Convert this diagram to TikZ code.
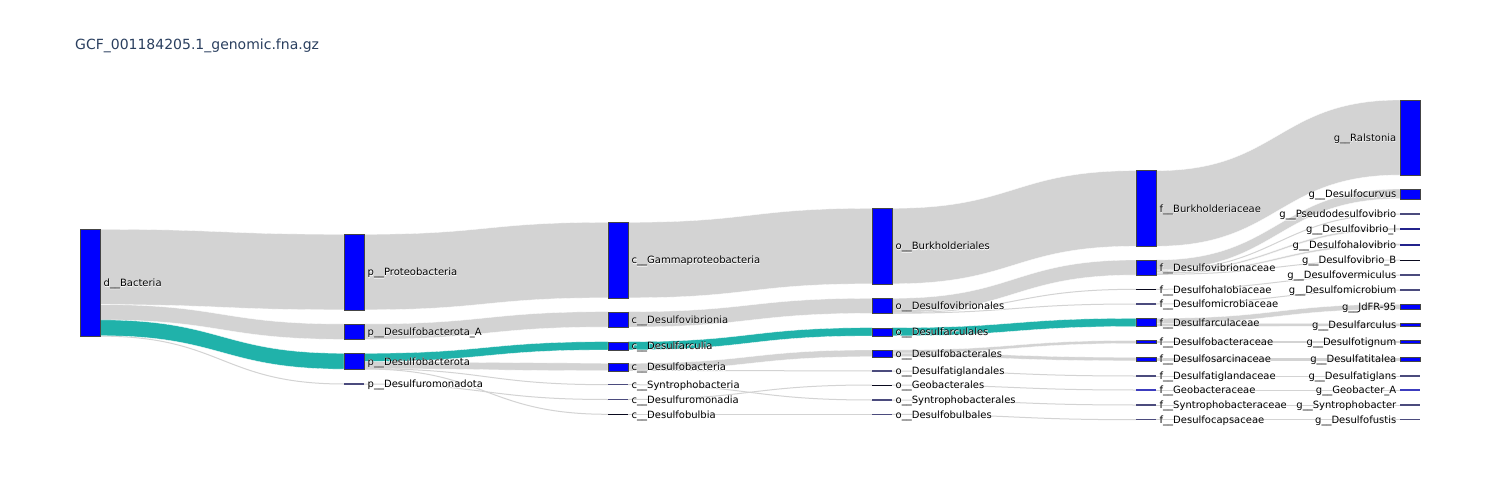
\documentclass[tikz,border=0pt]{standalone}
\usepackage{fontspec}
\setmainfont{DejaVu Sans}
\newfontfamily\halofont{DejaVu Sans}[FakeBold=2.5]
\usetikzlibrary{calc}
\definecolor{nodeblue}{RGB}{0,0,255}
\definecolor{nodeline}{RGB}{68,68,68}
\definecolor{linkgrey}{RGB}{211,211,211}
\definecolor{tealc}{RGB}{32,178,170}
\definecolor{titlec}{RGB}{42,63,95}
\definecolor{thinc}{RGB}{75,75,125}
\definecolor{thinb}{RGB}{60,60,190}
\definecolor{navyc}{RGB}{35,35,140}
\definecolor{tinyc}{RGB}{10,10,30}
\pgfdeclarelayer{back}\pgfdeclarelayer{bg}\pgfsetlayers{back,bg,main}
\newcommand\hl[1]{\makebox[0pt][l]{\color{white}\halofont #1}#1}
\tikzset{
  lbl/.style={font=\fontsize{10}{12}\selectfont, inner sep=0pt, text=black, yshift=-1.3pt},
  lble/.style={lbl, xshift=3.5pt},
  lblw/.style={lbl, xshift=-3.5pt},
  nd/.style={draw=nodeline, line width=0.4pt, fill=nodeblue, minimum width=20pt,
    minimum height=#1, inner sep=0pt, outer sep=0pt, anchor=north west},
  thinnd/.style={fill=#1, minimum width=20pt, minimum height=1.3pt, inner sep=0pt,
    outer sep=0pt, anchor=west},
  band/.style={fill=#1, draw=white, line width=0.3pt},
  thinlink/.style={draw=linkgrey, line width=1pt},
  titlefont/.style={font=\fontsize{14}{16}\selectfont, text=titlec, inner sep=0pt}
}
% band between two nodes: color, source, top, bottom, target, top, bottom
\newcommand\lnk[7]{%
  \path ([yshift=-#3pt]#2.north east) coordinate (s1)
        ([yshift=-#4pt]#2.north east) coordinate (s2)
        ([yshift=-#6pt]#5.north west) coordinate (t1)
        ([yshift=-#7pt]#5.north west) coordinate (t2);
  \path ($(s1)!0.5!(t1)$) coordinate (m1) ($(s2)!0.5!(t2)$) coordinate (m2);
  \path[band=#1] (s1) .. controls (s1 -| m1) and (t1 -| m1) .. (t1) -- (t2)
     .. controls (t2 -| m2) and (s2 -| m2) .. (s2) -- cycle;}
% thin link
\newcommand\tlnk[2]{%
  \path (#1) coordinate (s1) (#2) coordinate (t1);
  \path ($(s1)!0.5!(t1)$) coordinate (m1);
  \path[thinlink] (s1) .. controls (s1 -| m1) and (t1 -| m1) .. (t1);}
\begin{document}
\begin{tikzpicture}[x=1pt,y=-1pt]
\begin{pgfonlayer}{back}
\fill[white] (0,0) rectangle (1500,500);
\end{pgfonlayer}
\useasboundingbox (0,0) rectangle (1500,500);
\node[titlefont, anchor=base west] (title) at (75,50) {GCF\_001184205.1\_genomic.fna.gz};
% column 0
\node[nd=107pt, label={[lble]east:\hl{d\_\_Bacteria}}] (bact) at (80,229.3) {};
% column 1
\node[nd=75.5pt, label={[lble]east:\hl{p\_\_Proteobacteria}}] (proteo) at (344,234.3) {};
\node[nd=15.3pt, label={[lble]east:\hl{p\_\_Desulfobacterota\_A}}] (pDA) at (344,324) {};
\node[nd=15.8pt, label={[lble]east:\hl{p\_\_Desulfobacterota}}] (pD) at (344,353.3) {};
\node[thinnd=thinc, label={[lble]east:\hl{p\_\_Desulfuromonadota}}] (duro) at (344,384) {};
% column 2
\node[nd=75.5pt, label={[lble]east:\hl{c\_\_Gammaproteobacteria}}] (gamma) at (608,222.3) {};
\node[nd=15.3pt, label={[lble]east:\hl{c\_\_Desulfovibrionia}}] (cvib) at (608,311.7) {};
\node[nd=8.2pt, label={[lble]east:\hl{c\_\_Desulfarculia}}] (carc) at (608,341.7) {};
\node[nd=7.4pt, label={[lble]east:\hl{c\_\_Desulfobacteria}}] (cbact) at (608,363.3) {};
\node[thinnd=thinc, label={[lble]east:\hl{c\_\_Syntrophobacteria}}] (csyn) at (608,384.7) {};
\node[thinnd=thinc, label={[lble]east:\hl{c\_\_Desulfuromonadia}}] (cduro) at (608,399.5) {};
\node[thinnd=tinyc, minimum height=1pt, label={[lble]east:\hl{c\_\_Desulfobulbia}}] (cbulb) at (608,414.3) {};
% column 3
\node[nd=75.5pt, label={[lble]east:\hl{o\_\_Burkholderiales}}] (burk) at (872,208.3) {};
\node[nd=15pt, label={[lble]east:\hl{o\_\_Desulfovibrionales}}] (ovib) at (872,298.3) {};
\node[nd=8.2pt, label={[lble]east:\hl{o\_\_Desulfarculales}}] (oarc) at (872,327.7) {};
\node[nd=6.7pt, label={[lble]east:\hl{o\_\_Desulfobacterales}}] (obact) at (872,350) {};
\node[thinnd=thinc, label={[lble]east:\hl{o\_\_Desulfatiglandales}}] (otigl) at (872,371) {};
\node[thinnd=tinyc, minimum height=1pt, label={[lble]east:\hl{o\_\_Geobacterales}}] (ogeo) at (872,385) {};
\node[thinnd=thinc, label={[lble]east:\hl{o\_\_Syntrophobacterales}}] (osyn) at (872,400) {};
\node[thinnd=thinc, label={[lble]east:\hl{o\_\_Desulfobulbales}}] (obulb) at (872,414.3) {};
% column 4
\node[nd=75.5pt, label={[lble]east:\hl{f\_\_Burkholderiaceae}}] (fburk) at (1136,170.7) {};
\node[nd=15pt, label={[lble]east:\hl{f\_\_Desulfovibrionaceae}}] (fvib) at (1136,260) {};
\node[thinnd=tinyc, minimum height=1pt, label={[lble]east:\hl{f\_\_Desulfohalobiaceae}}] (fhalo) at (1136,289.3) {};
\node[thinnd=thinc, label={[lble]east:\hl{f\_\_Desulfomicrobiaceae}}] (fmicro) at (1136,304) {};
\node[nd=8.2pt, label={[lble]east:\hl{f\_\_Desulfarculaceae}}] (farc) at (1136,318.3) {};
\node[nd=3pt, label={[lble]east:\hl{f\_\_Desulfobacteraceae}}] (fbact) at (1136,340.5) {};
\node[nd=3.5pt, label={[lble]east:\hl{f\_\_Desulfosarcinaceae}}] (fsarc) at (1136,357.3) {};
\node[thinnd=thinc, label={[lble]east:\hl{f\_\_Desulfatiglandaceae}}] (ftigl) at (1136,376) {};
\node[thinnd=thinb, label={[lble]east:\hl{f\_\_Geobacteraceae}}] (fgeo) at (1136,390) {};
\node[thinnd=thinc, label={[lble]east:\hl{f\_\_Syntrophobacteraceae}}] (fsyn) at (1136,405) {};
\node[thinnd=thinc, label={[lble]east:\hl{f\_\_Desulfocapsaceae}}] (fcaps) at (1136,419.7) {};
% column 5
\node[nd=75pt, label={[lblw]west:\hl{g\_\_Ralstonia}}] (gral) at (1400,100) {};
\node[nd=9.7pt, label={[lblw]west:\hl{g\_\_Desulfocurvus}}] (gcurv) at (1400,189) {};
\node[thinnd=thinc, label={[lblw]west:\hl{g\_\_Pseudodesulfovibrio}}] (gpseudo) at (1400,214) {};
\node[thinnd=navyc, minimum height=2pt, label={[lblw]west:\hl{g\_\_Desulfovibrio\_I}}] (gvibI) at (1400,229) {};
\node[thinnd=navyc, minimum height=2pt, label={[lblw]west:\hl{g\_\_Desulfohalovibrio}}] (ghalo) at (1400,244.5) {};
\node[thinnd=tinyc, minimum height=1pt, label={[lblw]west:\hl{g\_\_Desulfovibrio\_B}}] (gvibB) at (1400,260) {};
\node[thinnd=thinc, label={[lblw]west:\hl{g\_\_Desulfovermiculus}}] (gverm) at (1400,275) {};
\node[thinnd=thinc, label={[lblw]west:\hl{g\_\_Desulfomicrobium}}] (gmicro) at (1400,290) {};
\node[nd=5pt, label={[lblw]west:\hl{g\_\_JdFR-95}}] (gjdfr) at (1400,304.3) {};
\node[nd=3pt, label={[lblw]west:\hl{g\_\_Desulfarculus}}] (gdarc) at (1400,323.3) {};
\node[nd=3pt, label={[lblw]west:\hl{g\_\_Desulfotignum}}] (gtign) at (1400,340.5) {};
\node[nd=3.5pt, label={[lblw]west:\hl{g\_\_Desulfatitalea}}] (gtital) at (1400,357.3) {};
\node[thinnd=thinc, label={[lblw]west:\hl{g\_\_Desulfatiglans}}] (gtigl) at (1400,376) {};
\node[thinnd=thinb, label={[lblw]west:\hl{g\_\_Geobacter\_A}}] (ggeo) at (1400,390) {};
\node[thinnd=thinc, label={[lblw]west:\hl{g\_\_Syntrophobacter}}] (gsyn) at (1400,405) {};
\node[thinnd=thinc, label={[lblw]west:\hl{g\_\_Desulfofustis}}] (gfust) at (1400,419.7) {};
\begin{pgfonlayer}{bg}
% column 0 -> 1
\lnk{linkgrey}{bact}{0}{75.3}{proteo}{0}{75.5}
\lnk{linkgrey}{bact}{75.3}{90.6}{pDA}{0}{15.3}
\tlnk{[yshift=-106.8pt]bact.north east}{duro.west}
% column 1 -> 2
\lnk{linkgrey}{proteo}{0}{75.5}{gamma}{0}{75.5}
\lnk{linkgrey}{pDA}{0}{15.3}{cvib}{0}{15.3}
\lnk{linkgrey}{pD}{8.2}{15.4}{cbact}{0}{7.4}
\tlnk{[yshift=-15.4pt]pD.north east}{csyn.west}
\tlnk{[yshift=-15.7pt]pD.north east}{cbulb.west}
\tlnk{duro.east}{cduro.west}
% column 2 -> 3
\lnk{linkgrey}{gamma}{0}{75.5}{burk}{0}{75.5}
\lnk{linkgrey}{cvib}{0}{15.3}{ovib}{0}{15}
\lnk{linkgrey}{cbact}{0}{6.7}{obact}{0}{6.7}
\tlnk{[yshift=-7pt]cbact.north east}{otigl.west}
\tlnk{csyn.east}{osyn.west}
\tlnk{cduro.east}{ogeo.west}
\tlnk{cbulb.east}{obulb.west}
% column 3 -> 4
\lnk{linkgrey}{burk}{0}{75.5}{fburk}{0}{75.5}
\lnk{linkgrey}{ovib}{0}{14.4}{fvib}{0}{15}
\tlnk{[yshift=-14.5pt]ovib.north east}{fhalo.west}
\tlnk{[yshift=-14.9pt]ovib.north east}{fmicro.west}
\lnk{linkgrey}{obact}{0}{3.1}{fbact}{0}{3}
\lnk{linkgrey}{obact}{3.1}{6.7}{fsarc}{0}{3.5}
\tlnk{otigl.east}{ftigl.west}
\tlnk{ogeo.east}{fgeo.west}
\tlnk{osyn.east}{fsyn.west}
\tlnk{obulb.east}{fcaps.west}
% column 4 -> 5
\lnk{linkgrey}{fburk}{0}{75.5}{gral}{0}{75}
\lnk{linkgrey}{fvib}{0}{9.8}{gcurv}{0}{9.7}
\tlnk{[yshift=-10.3pt]fvib.north east}{gpseudo.west}
\lnk{linkgrey}{fvib}{10.8}{12.3}{gvibI}{0}{2}
\lnk{linkgrey}{fvib}{12.3}{13.8}{ghalo}{0}{2}
\tlnk{[yshift=-14.3pt]fvib.north east}{gvibB.west}
\tlnk{fhalo.east}{gverm.west}
\tlnk{fmicro.east}{gmicro.west}
\lnk{linkgrey}{farc}{0}{5}{gjdfr}{0}{5}
\lnk{linkgrey}{farc}{5}{8.2}{gdarc}{0}{3}
\lnk{linkgrey}{fbact}{0}{3}{gtign}{0}{3}
\lnk{linkgrey}{fsarc}{0}{3.5}{gtital}{0}{3.5}
\tlnk{ftigl.east}{gtigl.west}
\tlnk{fgeo.east}{ggeo.west}
\tlnk{fsyn.east}{gsyn.west}
\tlnk{fcaps.east}{gfust.west}
% highlighted path
\lnk{tealc}{bact}{90.6}{106.4}{pD}{0}{15.8}
\lnk{tealc}{pD}{0}{8.2}{carc}{0}{8.2}
\lnk{tealc}{carc}{0}{8.2}{oarc}{0}{8.2}
\lnk{tealc}{oarc}{0}{8.2}{farc}{0}{8.2}
\end{pgfonlayer}
\end{tikzpicture}
\end{document}
